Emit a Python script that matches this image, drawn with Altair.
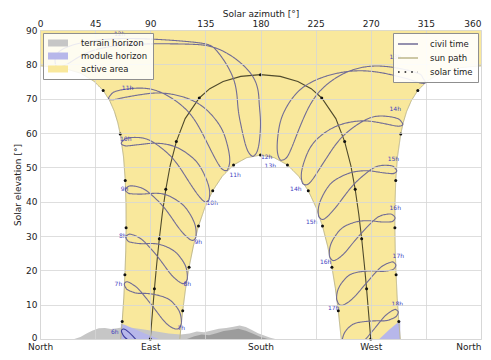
import altair as alt
import pandas as pd

# ---------------- axes / legend text ----------------
azimuth_ticks = [0, 45, 90, 135, 180, 225, 270, 315, 360]
elevation_ticks = [0, 10, 20, 30, 40, 50, 60, 70, 80, 90]
compass_values = [0, 90, 180, 270, 360]
compass_names = ["North", "East", "South", "West", "North"]

fill_names = ["terrain horizon", "module horizon", "active area"]
fill_colors = ["#c6c6c6", "#b7b7ea", "#f9e89c"]
line_names = ["civil time", "sun path", "solar time"]
line_colors = ["#716c96", "#bdb68a", "#111111"]

# ---------------- active area (between the solstice paths) ----------------
active_el = [0, 5.1, 11.9, 18.7, 25.6, 32.4, 39.3, 46.2, 53.0, 59.7, 63.0, 66.3, 69.4, 72.4, 75.1, 77.4, 79.0, 79.56, 90]
active_left = [65.9, 67.1, 68.4, 69.3, 70.0, 70.3, 70.2, 69.6, 68.2, 65.5, 63.5, 60.7, 56.9, 51.6, 44.0, 33.3, 18.0, 0.0, 0.0]
active_right = [294.1, 292.9, 291.6, 290.7, 290.0, 289.7, 289.8, 290.4, 291.8, 294.5, 296.5, 299.3, 303.1, 308.4, 316.0, 326.7, 342.0, 360.0, 360.0]

hole_el = [0, 8.2, 14.6, 20.9, 27.05, 32.9, 38.3, 43.2, 47.4, 50.7, 52.8, 53.56]
hole_left = [114.1, 116.5, 118.8, 121.7, 125.2, 129.4, 134.6, 141.0, 148.8, 158.0, 168.7, 180.0]
hole_right = [245.9, 243.5, 241.2, 238.3, 234.8, 230.6, 225.4, 219.0, 211.2, 202.0, 191.3, 180.0]

# ---------------- sun paths ----------------
summer_am_az = [65.9, 67.1, 68.4, 69.3, 70.0, 70.3, 70.2, 69.6, 68.2, 65.5, 63.5, 60.7, 56.9, 51.6, 44.0, 33.3, 18.0, 0.0]
summer_am_el = [0, 5.1, 11.9, 18.7, 25.6, 32.4, 39.3, 46.2, 53.0, 59.7, 63.0, 66.3, 69.4, 72.4, 75.1, 77.4, 79.0, 79.56]
summer_pm_az = [360.0, 342.0, 326.7, 316.0, 308.4, 303.1, 299.3, 296.5, 294.5, 291.8, 290.4, 289.8, 289.7, 290.0, 290.7, 291.6, 292.9, 294.1]
summer_pm_el = [79.56, 79.0, 77.4, 75.1, 72.4, 69.4, 66.3, 63.0, 59.7, 53.0, 46.2, 39.3, 32.4, 25.6, 18.7, 11.9, 5.1, 0]
winter_az = [114.1, 116.5, 118.8, 121.7, 125.2, 129.4, 134.6, 141.0, 148.8, 158.0, 168.7, 180.0,
             191.3, 202.0, 211.2, 219.0, 225.4, 230.6, 234.8, 238.3, 241.2, 243.5, 245.9]
winter_el = [0, 8.2, 14.6, 20.9, 27.05, 32.9, 38.3, 43.2, 47.4, 50.7, 52.8, 53.56,
             52.8, 50.7, 47.4, 43.2, 38.3, 32.9, 27.05, 20.9, 14.6, 8.2, 0]
equinox_az = [90.0, 91.7, 93.4, 95.3, 97.4, 99.8, 102.7, 106.3, 111.3, 118.5, 130.0, 138.6, 149.5, 163.9, 180.0,
              196.1, 210.5, 221.4, 230.0, 241.5, 248.7, 253.7, 257.3, 260.2, 262.6, 264.7, 266.6, 268.3, 270.0]
equinox_el = [0.0, 7.3, 14.6, 21.9, 29.2, 36.4, 43.6, 50.6, 57.5, 64.2, 70.2, 72.9, 75.0, 76.5, 77.0,
              76.5, 75.0, 72.9, 70.2, 64.2, 57.5, 50.6, 43.6, 36.4, 29.2, 21.9, 14.6, 7.3, 0.0]

# solar-time hour dots (summer, equinox, winter)
dots_az = [67.1, 69.3, 70.3, 69.6, 65.5, 51.6, 308.4, 294.5, 290.4, 289.7, 290.7, 292.9,
           90.0, 93.4, 97.4, 102.7, 111.3, 130.0, 180.0, 230.0, 248.7, 257.3, 262.6, 266.6, 270.0,
           116.5, 121.7, 129.4, 141.0, 158.0, 180.0, 202.0, 219.0, 230.6, 238.3, 243.5]
dots_el = [5.1, 18.7, 32.4, 46.2, 59.7, 72.4, 72.4, 59.7, 46.2, 32.4, 18.7, 5.1,
           0.0, 14.6, 29.2, 43.6, 57.5, 70.2, 77.0, 70.2, 57.5, 43.6, 29.2, 14.6, 0.0,
           8.2, 20.9, 32.9, 43.2, 50.7, 53.56, 50.7, 43.2, 32.9, 20.9, 8.2]

# ---------------- civil time analemmas ----------------
az_06h = [81.4, 75.4, 69.6, 67.7, 66.45, 67.8, 70.1, 75.8, 81.6]
el_06h = [-1.2, -0.9, 0.35, 1.2, 2.35, 2.9, 2.65, 0.85, -1.6]
az_07h = [115.5, 115.1, 112.9, 107.3, 101.3, 93.0, 84.6, 78.4, 72.2, 70.2, 68.85, 70.1, 72.6, 78.7, 84.6, 92.2, 99.7, 105.4, 111.3, 114.35, 115.5]
el_07h = [4.7, 6.4, 8.6, 11.0, 12.2, 13.0, 13.3, 13.4, 14.2, 14.8, 15.9, 16.6, 16.5, 15.1, 12.8, 9.4, 5.9, 3.85, 2.9, 3.6, 4.7]
az_08h = [120.3, 120.1, 118.1, 112.3, 106.0, 97.0, 87.75, 80.8, 74.0, 71.7, 70.1, 71.5, 74.2, 81.05, 87.7, 96.0, 103.9, 109.8, 115.9, 119.05, 120.3]
el_08h = [17.5, 19.3, 21.8, 24.7, 26.4, 27.6, 27.8, 27.8, 28.2, 28.6, 29.6, 30.3, 30.5, 29.5, 27.4, 24.0, 20.2, 17.75, 16.2, 16.6, 17.5]
az_09h = [127.35, 127.4, 125.6, 119.6, 112.5, 102.1, 91.1, 82.7, 74.5, 71.8, 69.75, 71.3, 74.5, 82.9, 91.0, 100.8, 109.6, 115.9, 122.4, 125.85, 127.35]
el_09h = [29.7, 31.5, 34.2, 37.9, 40.2, 42.1, 42.4, 42.2, 42.3, 42.55, 43.3, 44.2, 44.6, 44.0, 42.0, 38.5, 34.2, 31.2, 29.0, 28.9, 29.7]
az_10h = [137.9, 138.5, 137.15, 131.2, 123.3, 110.4, 95.6, 84.1, 72.95, 69.2, 66.35, 68.25, 72.6, 84.3, 95.45, 108.3, 118.55, 125.3, 132.2, 136.1, 137.9]
el_10h = [40.45, 42.2, 45.2, 49.9, 53.15, 56.0, 57.0, 56.75, 56.3, 56.3, 56.9, 57.9, 58.6, 58.5, 56.6, 52.6, 47.5, 43.8, 40.6, 40.0, 40.45]
az_11h = [152.9, 154.4, 154.6, 150.7, 143.1, 127.1, 103.8, 84.7, 66.8, 61.0, 56.1, 58.0, 64.4, 84.6, 103.4, 121.3, 132.8, 139.6, 146.4, 150.5, 152.9]
el_11h = [49.1, 50.6, 53.55, 59.2, 64.0, 69.0, 71.5, 71.3, 70.2, 69.75, 69.9, 71.2, 72.4, 73.05, 71.0, 66.05, 59.7, 54.9, 50.5, 49.1, 49.1]
az_12h = [174.0, 176.5, 178.8, 180.0, 178.9, 173.1, 148.0, 118.7, 75.7, 45.4, 30.3, 22.8, 15.0, 12.4, 13.6, 25.8, 66.0, 124.1, 144.4, 157.7, 161.5, 164.2, 168.05, 171.55, 174.0]
el_12h = [53.15, 54.1, 56.9, 63.0, 68.9, 76.8, 84.1, 85.9, 85.8, 84.25, 81.85, 80.2, 79.2, 80.5, 82.8, 85.5, 87.5, 86.5, 83.9, 76.0, 67.9, 62.0, 56.25, 53.75, 53.15]
az_13h = [196.5, 199.4, 203.3, 209.3, 215.4, 226.6, 247.9, 276.7, 306.0, 312.3, 314.5, 309.2, 300.9, 276.1, 247.1, 217.2, 201.2, 195.4, 193.6, 194.7, 196.5]
el_13h = [52.0, 52.3, 54.0, 59.2, 64.5, 71.4, 77.3, 79.5, 77.7, 76.2, 74.6, 74.7, 75.65, 77.7, 77.7, 73.9, 67.5, 62.0, 56.1, 53.1, 52.0]
az_14h = [214.5, 217.2, 221.5, 228.8, 235.9, 246.7, 262.0, 275.55, 289.35, 294.3, 296.1, 293.3, 288.3, 275.55, 260.9, 242.1, 227.0, 218.9, 213.95, 213.5, 214.5]
el_14h = [45.2, 44.9, 46.0, 49.9, 53.8, 58.85, 63.1, 64.9, 64.5, 63.6, 62.46, 62.0, 62.2, 63.1, 63.5, 62.0, 58.5, 54.6, 49.5, 46.5, 45.2]
az_15h = [227.5, 229.7, 233.45, 240.4, 247.0, 256.4, 267.2, 276.45, 286.15, 289.2, 291.25, 289.3, 285.8, 276.6, 267.05, 254.3, 242.25, 234.5, 228.55, 227.1, 227.5]
el_15h = [35.65, 34.9, 35.3, 37.9, 40.95, 45.1, 48.55, 50.4, 50.5, 50.0, 49.0, 48.3, 48.2, 48.6, 49.0, 48.5, 46.6, 44.0, 39.9, 37.1, 35.65]
az_16h = [236.25, 238.0, 241.35, 247.7, 253.7, 262.0, 270.9, 278.1, 285.6, 288.1, 289.85, 288.4, 285.6, 278.3, 270.8, 260.7, 250.85, 244.0, 238.1, 236.25, 236.25]
el_16h = [24.1, 23.1, 23.0, 24.7, 27.2, 30.7, 34.0, 35.9, 36.4, 36.1, 35.3, 34.4, 34.1, 34.1, 34.4, 34.3, 33.2, 31.4, 28.2, 25.65, 24.1]
az_17h = [242.1, 243.5, 246.65, 252.7, 258.5, 266.2, 274.05, 280.2, 286.7, 288.85, 290.5, 289.35, 286.9, 280.45, 273.95, 265.2, 256.4, 250.2, 244.5, 242.35, 242.1]
el_17h = [11.6, 10.4, 9.8, 11.0, 13.0, 16.2, 19.4, 21.4, 22.4, 22.3, 21.55, 20.6, 20.1, 19.7, 19.8, 19.75, 19.2, 17.95, 15.35, 13.05, 11.6]
az_18h = [262.3, 269.65, 277.15, 282.9, 288.8, 290.85, 292.45, 291.45, 289.2, 283.25, 277.05, 268.8, 260.6, 254.5, 248.9, 246.7, 245.5]
el_18h = [-1.4, 1.55, 4.85, 7.1, 8.5, 8.5, 7.9, 6.9, 6.2, 5.4, 5.3, 5.2, 4.85, 4.05, 2.0, -0.2, -1.5]

# hour labels
label_text = ["6h", "7h", "8h", "9h", "10h", "11h", "12h",
              "7h", "8h", "9h", "10h", "11h", "12h", "13h", "14h", "15h", "16h", "17h",
              "13h", "14h", "15h", "16h", "17h", "18h"]
label_az = [61.0, 64.0, 67.5, 69.0, 70.0, 71.5, 65.0,
            115.4, 120.3, 129.2, 140.6, 159.3, 185.0, 188.0, 208.8, 221.8, 233.2, 239.7,
            290.0, 290.0, 288.5, 290.0, 292.5, 291.7]
label_el = [2.0, 16.0, 30.0, 43.7, 58.3, 73.1, 88.9,
            3.1, 16.0, 28.3, 39.7, 47.7, 53.0, 50.3, 43.7, 34.0, 22.3, 9.1,
            82.0, 66.9, 52.3, 38.3, 24.3, 10.3]

# ---------------- horizons ----------------
terrain_az = [28, 33, 38, 43, 48, 53, 58, 63, 68, 75, 85, 95, 105, 115, 122, 128, 134, 140, 146, 152, 158, 163, 168, 173, 178, 183, 188, 192]
terrain_el = [0, 0.6, 1.6, 2.5, 3.1, 3.2, 2.9, 3.1, 3.4, 3.3, 2.8, 2.2, 1.6, 1.3, 1.6, 2.2, 2.0, 2.5, 3.0, 3.2, 3.6, 3.9, 3.5, 2.6, 1.7, 1.0, 0.4, 0]
terrain_dark_az = [120, 126, 132, 138, 144, 150, 156, 162, 168, 174, 180, 186]
terrain_dark_el = [0, 0.8, 1.3, 1.1, 1.7, 2.3, 2.6, 3.0, 2.4, 1.5, 0.6, 0]
module_left_az = [66.0, 70.0, 75.0, 80.0, 85.0, 90.0, 97.0]
module_left_el = [4.5, 4.0, 3.2, 2.5, 1.7, 1.0, 0.0]
module_right_az = [277.0, 285.0, 294.1]
module_right_el = [0.0, 2.7, 5.4]

# ---------------- tables ----------------
active_df = pd.DataFrame({"el": active_el, "left": active_left, "right": active_right, "kind": "active area"})
hole_df = pd.DataFrame({"el": hole_el, "left": hole_left, "right": hole_right})
terrain_df = pd.DataFrame({"az": terrain_az, "el": terrain_el, "kind": "terrain horizon"})
terrain_dark_df = pd.DataFrame({"az": terrain_dark_az, "el": terrain_dark_el})
module_df = pd.concat([
    pd.DataFrame({"az": module_left_az, "el": module_left_el, "part": "east"}),
    pd.DataFrame({"az": module_right_az, "el": module_right_el, "part": "west"}),
])
module_df["kind"] = "module horizon"


def seq_frame(name, az, el):
    return pd.DataFrame({"id": name, "seq": list(range(len(az))), "az": az, "el": el})


paths_df = pd.concat([
    seq_frame("summer_am", summer_am_az, summer_am_el),
    seq_frame("summer_pm", summer_pm_az, summer_pm_el),
    seq_frame("winter", winter_az, winter_el),
])
paths_df["kind"] = "sun path"
equinox_df = seq_frame("equinox", equinox_az, equinox_el)

civil_df = pd.concat([
    seq_frame("07h", az_07h, el_07h), seq_frame("08h", az_08h, el_08h),
    seq_frame("09h", az_09h, el_09h), seq_frame("10h", az_10h, el_10h),
    seq_frame("11h", az_11h, el_11h), seq_frame("12h", az_12h, el_12h),
    seq_frame("13h", az_13h, el_13h), seq_frame("14h", az_14h, el_14h),
    seq_frame("15h", az_15h, el_15h), seq_frame("16h", az_16h, el_16h),
    seq_frame("17h", az_17h, el_17h), seq_frame("18h", az_18h, el_18h),
])
civil_df["kind"] = "civil time"
civil6_df = seq_frame("06h", az_06h, el_06h)

dots_df = pd.DataFrame({"az": dots_az, "el": dots_el})
labels_df = pd.DataFrame({"az": label_az, "el": label_el, "label": label_text})

# ---------------- scales, axes, legends ----------------
FONT = "DejaVu Sans"
xscale = alt.Scale(domain=[0, 360], nice=False, zero=False)
yscale = alt.Scale(domain=[0, 90], nice=False, zero=False)
flush_align = {"condition": {"test": "datum.value >= 359", "value": "right"}, "value": "center"}
zero_lift = {"condition": {"test": "datum.value == 0", "value": -2}, "value": 0}

compass_expr = " : ".join(
    f"datum.value == {v} ? '{n}'" for v, n in zip(compass_values[:-1], compass_names[:-1])
) + f" : '{compass_names[-1]}'"

top_axis = alt.Axis(orient="top", values=azimuth_ticks, title="Solar azimuth [°]", grid=True,
                    gridColor="#d6d6d6", gridWidth=0.8, ticks=False, domain=False,
                    labelPadding=2, titlePadding=1, labelFontSize=9, titleFontSize=9,
                    titleFontWeight="normal", labelColor="#222222", titleColor="#222222",
                    labelAlign=flush_align, labelFont=FONT, titleFont=FONT, zindex=1)
bottom_axis = alt.Axis(orient="bottom", values=compass_values, labelExpr=compass_expr, title=None,
                       grid=False, ticks=False, domain=False, labelPadding=3, labelFontSize=9,
                       labelColor="#222222", labelAlign=flush_align, labelFont=FONT, zindex=1)
left_axis = alt.Axis(orient="left", values=elevation_ticks, title="Solar elevation [°]", grid=True,
                     gridColor="#d6d6d6", gridWidth=0.8, ticks=False, domain=False,
                     labelPadding=3, titlePadding=3, labelFontSize=9, titleFontSize=9,
                     titleFontWeight="normal", labelColor="#222222", titleColor="#222222",
                     labelOffset=zero_lift, labelFont=FONT, titleFont=FONT, zindex=1)

fill_legend = alt.Legend(title=None, orient="top-left", offset=3, padding=5, rowPadding=3,
                         symbolType="M-2,-0.7H2V0.7H-2Z", symbolSize=100, symbolStrokeWidth=0,
                         symbolOffset=5, symbolOpacity=1, labelFontSize=8.5, labelFont=FONT,
                         labelColor="#222222", labelOffset=18,
                         fillColor="rgba(255,255,255,0.85)", strokeColor="#8f8f8f", zindex=3)
line_legend = alt.Legend(title=None, orient="top-right", offset=3, padding=5, rowPadding=3,
                         symbolType="M-2,0H2", symbolSize=100, symbolStrokeWidth=1.6,
                         symbolOffset=4, labelFontSize=8.5, labelFont=FONT, labelColor="#222222",
                         labelOffset=16, fillColor="rgba(255,255,255,0.9)", strokeColor="#8f8f8f",
                         zindex=3)

fill_enc = alt.Fill("kind:N", scale=alt.Scale(domain=fill_names, range=fill_colors), legend=fill_legend)
stroke_enc = alt.Stroke("kind:N", scale=alt.Scale(domain=line_names, range=line_colors), legend=line_legend)
dash_enc = alt.StrokeDash("kind:N", scale=alt.Scale(domain=line_names, range=[[1, 0], [1, 0], [1.6, 5]]),
                          legend=line_legend)


def X(field, axis=None):
    return alt.X(field, type="quantitative", scale=xscale, axis=axis)


def Y(field, axis=None):
    return alt.Y(field, type="quantitative", scale=yscale, axis=axis)


active = alt.Chart(active_df).mark_area(orient="horizontal").encode(
    y=Y("el", left_axis), x=X("left"), x2=alt.X2("right"), fill=fill_enc)
hole = alt.Chart(hole_df).mark_area(orient="horizontal", color="white").encode(
    y=Y("el"), x=X("left"), x2=alt.X2("right"))
terrain = alt.Chart(terrain_df).mark_area().encode(
    x=X("az"), y=Y("el"), y2=alt.datum(0), fill=fill_enc)
terrain_dark = alt.Chart(terrain_dark_df).mark_area(color="#9c9c9c").encode(
    x=X("az"), y=Y("el"), y2=alt.datum(0))
module = alt.Chart(module_df).mark_area().encode(
    x=X("az"), y=Y("el"), y2=alt.datum(0), detail="part:N", fill=fill_enc)
paths = alt.Chart(paths_df).mark_line(strokeWidth=1).encode(
    x=X("az"), y=Y("el"), detail="id:N", order="seq:Q", stroke=stroke_enc, strokeDash=dash_enc)
equinox = alt.Chart(equinox_df).mark_line(color="#4f4a2c", strokeWidth=1.1).encode(
    x=X("az"), y=Y("el"), order="seq:Q")
civil = alt.Chart(civil_df).mark_line(strokeWidth=1.1, interpolate="natural", clip=True).encode(
    x=X("az"), y=Y("el"), detail="id:N", order="seq:Q", stroke=stroke_enc, strokeDash=dash_enc)
civil6 = alt.Chart(civil6_df).mark_line(color="#3c3c9c", strokeWidth=1.1, interpolate="natural", clip=True).encode(
    x=X("az"), y=Y("el"), order="seq:Q")
dots = alt.Chart(dots_df).mark_circle(size=9, color="#111111", opacity=1).encode(
    x=X("az", top_axis), y=Y("el"))
labels = alt.Chart(labels_df).mark_text(fontSize=6, color="#3f3fbf", font=FONT).encode(
    x=X("az", bottom_axis), y=Y("el"), text="label:N")

chart = alt.layer(
    active, hole, terrain, terrain_dark, module, paths, equinox, civil, civil6, dots, labels
).resolve_axis(x="independent", y="independent").properties(
    width=441, height=309,
    padding={"left": 32, "top": 22, "right": 2, "bottom": 13},
    autosize=alt.AutoSizeParams(type="none"),
).configure_view(stroke="#3a3a3a", strokeWidth=1).configure(font=FONT)

chart.save("out.html", embed_options={"renderer": "svg", "actions": False})
